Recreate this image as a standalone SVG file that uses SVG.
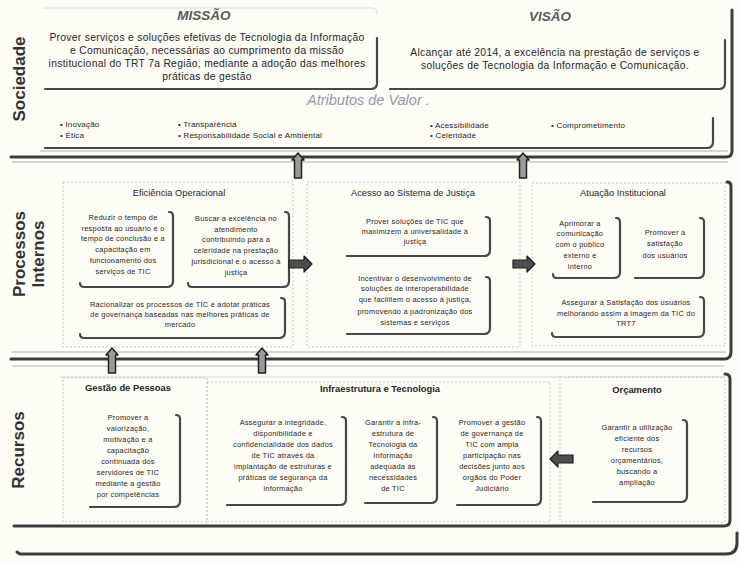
<svg xmlns="http://www.w3.org/2000/svg" width="739" height="562" viewBox="0 0 739 562">
<style>
text{font-family:"Liberation Sans",Arial,sans-serif;fill:#262626}
.lbl{font-size:17px;font-weight:bold;fill:#333;text-anchor:middle}
.big{font-size:13.5px;font-style:italic;font-weight:bold;fill:#5a5a5a;text-anchor:middle}
.st{font-size:10.3px;letter-spacing:0.3px;text-anchor:middle}
.attr{font-size:8px;letter-spacing:0.2px}
.av{font-size:14.5px;font-style:italic;fill:#8e9cab}
.tp{font-size:9.3px;text-anchor:middle}
.tr{font-size:9.4px;font-weight:bold;text-anchor:middle}
.bx{font-size:7.4px;letter-spacing:0.25px;text-anchor:middle}
.frame{fill:none;stroke:#3c3c3c;stroke-width:3;stroke-linecap:round}
.brk{fill:none;stroke:#474747;stroke-width:2.2;stroke-linecap:round}
.faint{fill:none;stroke:#d6e0e6;stroke-width:1}
.sec{fill:none;stroke:#b9cdd9;stroke-width:1;stroke-dasharray:2 2}
.thin{stroke:#a7b0b6;stroke-width:1}
.up{fill:#9a9a9a;stroke:#222;stroke-width:1.5;stroke-linejoin:round}
.side{fill:#4e4e4e;stroke:#1e1e1e;stroke-width:1.2;stroke-linejoin:round}
</style>
<rect width="739" height="562" fill="#fdfcf5"/>

<g id="labels">
<text class="lbl" transform="translate(25,79) rotate(-90)">Sociedade</text>
<text class="lbl" transform="translate(25,254) rotate(-90)">Processos</text>
<text class="lbl" transform="translate(44,254) rotate(-90)">Internos</text>
<text class="lbl" transform="translate(24,450) rotate(-90)">Recursos</text>
</g>

<g id="bands">
<line class="thin" x1="40" y1="151" x2="728" y2="151"/>
<line class="thin" x1="12" y1="162" x2="728" y2="162"/>
<path class="frame" d="M11,157 H726 Q732,157 732,151 V10"/>
<line class="thin" x1="12" y1="352" x2="726" y2="352"/>
<line class="thin" x1="12" y1="366" x2="724" y2="366"/>
<line class="thin" x1="60" y1="377" x2="724" y2="377" stroke-opacity="0.5"/>
<path class="frame" d="M11,359 H724 Q731,359 731,352 V186 Q731,182 727,182"/>
<path class="frame" d="M14,526 H724 Q730,526 730,520 V379 Q730,374 725,374" stroke-width="2.6"/>
<path class="frame" d="M17,552 L20,554 H726 Q737,554 737,543 V533"/>
</g>

<g id="missao">
<path class="faint" d="M43,8 H372 Q377,8 377,14"/>
<path class="brk" d="M377,38 V83 Q377,89 371,89 H45"/>
<text class="big" x="204" y="20">MISSÃO</text>
<text class="st" x="207" y="41">Prover serviços e soluções efetivas de Tecnologia da Informação</text>
<text class="st" x="207" y="54">e Comunicação, necessárias ao cumprimento da missão</text>
<text class="st" x="207" y="67">institucional do TRT 7a Região, mediante a adoção das melhores</text>
<text class="st" x="207" y="80">práticas de gestão</text>
</g>

<g id="visao">
<path class="brk" d="M725,40 V83 Q725,89 719,89 H390"/>
<text class="big" x="550" y="21">VISÃO</text>
<text class="st" x="555" y="56">Alcançar até 2014, a excelência na prestação de serviços e</text>
<text class="st" x="555" y="69">soluções de Tecnologia da Informação e Comunicação.</text>
</g>

<g id="atributos">
<path class="brk" d="M713,118 V142 Q713,148 707,148 H45"/>
<text class="av" x="307" y="105">Atributos de Valor .</text>
<text class="attr" x="60" y="127">• Inovação</text>
<text class="attr" x="60" y="138">• Ética</text>
<text class="attr" x="178" y="127">• Transparência</text>
<text class="attr" x="178" y="138">• Responsabilidade Social e Ambiental</text>
<text class="attr" x="430" y="128">• Acessibilidade</text>
<text class="attr" x="430" y="138">• Celeridade</text>
<text class="attr" x="551" y="128">• Comprometimento</text>
</g>

<g id="eficiencia">
<rect class="sec" x="63" y="182" width="230" height="165"/>
<text class="tp" x="179" y="196">Eficiência Operacional</text>
<path class="brk" d="M169,212 Q173,212 173,216 V281 Q173,287 167,287 H84 Q80,287 80,283"/>
<text class="bx" x="123" y="220">Reduzir o tempo de</text>
<text class="bx" x="123" y="231">resposta ao usuário e o</text>
<text class="bx" x="123" y="241">tempo de conclusão e a</text>
<text class="bx" x="123" y="252">capacitação em</text>
<text class="bx" x="123" y="263">funcionamento dos</text>
<text class="bx" x="123" y="274">serviços de TIC</text>
<path class="brk" d="M285,212 Q289,212 289,216 V281 Q289,287 283,287 H192 Q188,287 188,283"/>
<text class="bx" x="236" y="221">Buscar a excelência no</text>
<text class="bx" x="236" y="232">atendimento</text>
<text class="bx" x="236" y="242">contribuindo para a</text>
<text class="bx" x="236" y="253">celeridade na prestação</text>
<text class="bx" x="236" y="264">jurisdicional e o acesso à</text>
<text class="bx" x="236" y="275">justiça</text>
<path class="brk" d="M281,298 Q285,298 285,302 V332 Q285,338 279,338 H84 Q80,338 80,334"/>
<text class="bx" x="180" y="307">Racionalizar os processos de TIC e adotar práticas</text>
<text class="bx" x="180" y="317">de governança baseadas nas melhores práticas de</text>
<text class="bx" x="180" y="327">mercado</text>
</g>

<g id="acesso">
<rect class="sec" x="307" y="182" width="213" height="165"/>
<text class="tp" x="413" y="196">Acesso ao Sistema de Justiça</text>
<path class="brk" d="M486,217 Q490,217 490,221 V250 Q490,256 484,256 H347"/>
<text class="bx" x="415" y="224">Prover soluções de TIC que</text>
<text class="bx" x="415" y="234">maximizem a universalidade à</text>
<text class="bx" x="415" y="244">justiça</text>
<path class="brk" d="M486,277 Q490,277 490,281 V328 Q490,334 484,334 H347"/>
<text class="bx" x="415" y="281">Incentivar o desenvolvimento de</text>
<text class="bx" x="415" y="291">soluções de interoperabilidade</text>
<text class="bx" x="415" y="302">que facilitem o acesso à justiça,</text>
<text class="bx" x="415" y="314">promovendo a padronização dos</text>
<text class="bx" x="415" y="325">sistemas e serviços</text>
</g>

<g id="atuacao">
<rect class="sec" x="532" y="183" width="193" height="163"/>
<text class="tp" x="623" y="196">Atuação Institucional</text>
<path class="brk" d="M616,218 Q620,218 620,222 V272 Q620,278 614,278 H557 Q553,278 553,274"/>
<text class="bx" x="580" y="226">Aprimorar a</text>
<text class="bx" x="580" y="236">comunicação</text>
<text class="bx" x="580" y="247">com o público</text>
<text class="bx" x="580" y="258">externo e</text>
<text class="bx" x="580" y="269">interno</text>
<path class="brk" d="M700,218 Q704,218 704,222 V272 Q704,278 698,278 H635"/>
<text class="bx" x="665" y="235">Promover a</text>
<text class="bx" x="665" y="246">satisfação</text>
<text class="bx" x="665" y="258">dos usuários</text>
<path class="brk" d="M700,297 Q704,297 704,301 V331 Q704,337 698,337 H556 Q552,337 552,333"/>
<text class="bx" x="626" y="305">Assegurar a Satisfação dos usuários</text>
<text class="bx" x="626" y="316">melhorando assim a imagem da TIC do</text>
<text class="bx" x="626" y="326">TRT7</text>
</g>

<g id="gestao">
<rect class="sec" x="63" y="378" width="144" height="144"/>
<text class="tr" x="128" y="391">Gestão de Pessoas</text>
<path class="brk" d="M176,415 Q180,415 180,419 V501 Q180,507 174,507 H90"/>
<text class="bx" x="128" y="420">Promover a</text>
<text class="bx" x="128" y="431">valorização,</text>
<text class="bx" x="128" y="442">motivação e a</text>
<text class="bx" x="128" y="453">capacitação</text>
<text class="bx" x="128" y="464">continuada dos</text>
<text class="bx" x="128" y="475">servidores de TIC</text>
<text class="bx" x="128" y="486">mediante a gestão</text>
<text class="bx" x="128" y="497">por competências</text>
</g>

<g id="infra">
<rect class="sec" x="207" y="382" width="343" height="140"/>
<text class="tr" x="380" y="392">Infraestrutura e Tecnologia</text>
<path class="brk" d="M342,417 Q346,417 346,421 V499 Q346,505 340,505 H227"/>
<text class="bx" x="283" y="425">Assegurar a integridade,</text>
<text class="bx" x="283" y="436">disponibilidade e</text>
<text class="bx" x="283" y="447">confidencialidade dos dados</text>
<text class="bx" x="283" y="458">de TIC através da</text>
<text class="bx" x="283" y="469">implantação de estruturas e</text>
<text class="bx" x="283" y="480">práticas de segurança da</text>
<text class="bx" x="283" y="491">informação</text>
<path class="brk" d="M433,417 Q437,417 437,421 V497 Q437,503 431,503 H365"/>
<text class="bx" x="393" y="425">Garantir a infra-</text>
<text class="bx" x="393" y="436">estrutura de</text>
<text class="bx" x="393" y="447">Tecnologia da</text>
<text class="bx" x="393" y="458">Informação</text>
<text class="bx" x="393" y="469">adequada às</text>
<text class="bx" x="393" y="480">necessidades</text>
<text class="bx" x="393" y="491">de TIC</text>
<path class="brk" d="M537,417 Q541,417 541,421 V499 Q541,505 535,505 H457"/>
<text class="bx" x="492" y="425">Promover a gestão</text>
<text class="bx" x="492" y="436">de governança de</text>
<text class="bx" x="492" y="447">TIC com ampla</text>
<text class="bx" x="492" y="458">participação nas</text>
<text class="bx" x="492" y="469">decisões junto aos</text>
<text class="bx" x="492" y="480">órgãos do Poder</text>
<text class="bx" x="492" y="491">Judiciário</text>
</g>

<g id="orcamento">
<rect class="sec" x="560" y="377" width="165" height="145"/>
<text class="tr" x="637" y="393">Orçamento</text>
<path class="brk" d="M683,420 Q687,420 687,424 V496 Q687,502 681,502 H593"/>
<text class="bx" x="637" y="430">Garantir a utilização</text>
<text class="bx" x="637" y="441">eficiente dos</text>
<text class="bx" x="637" y="452">recursos</text>
<text class="bx" x="637" y="463">orçamentários,</text>
<text class="bx" x="637" y="474">buscando a</text>
<text class="bx" x="637" y="485">ampliação</text>
</g>

<g id="connectors">
<path class="up" d="M298,153 L304,160 L301.5,160 L301.5,178 L294.5,178 L294.5,160 L292,160 Z"/>
<path class="up" d="M523,153 L529,160 L526.5,160 L526.5,178 L519.5,178 L519.5,160 L517,160 Z"/>
<path class="up" d="M112,348 L118,355 L115.5,355 L115.5,373 L108.5,373 L108.5,355 L106,355 Z"/>
<path class="up" d="M262,348 L268,355 L265.5,355 L265.5,373 L258.5,373 L258.5,355 L256,355 Z"/>
<path class="side" d="M289,260 H304 V256 L312,264 L304,272 V268 H289 Z"/>
<path class="side" d="M513,260 H527 V256 L535,264 L527,272 V268 H513 Z"/>
<path class="side" d="M573,455 H558 V451 L550,459 L558,467 V463 H573 Z"/>
</g>
</svg>
